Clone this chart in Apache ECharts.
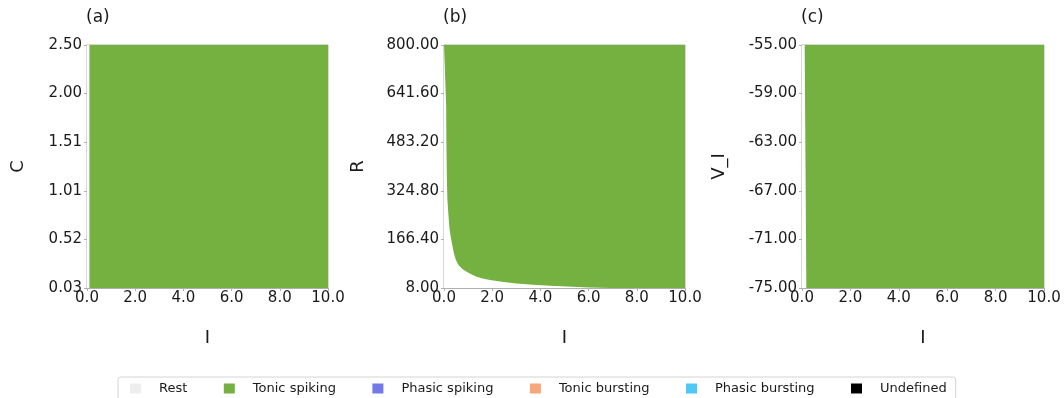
<!DOCTYPE html>
<html>
<head>
<meta charset="utf-8">
<script src="https://cdn.jsdelivr.net/npm/echarts@6/dist/echarts.min.js"></script>
<style>
  html, body { margin: 0; padding: 0; background: #ffffff; }
  #chart { width: 1064px; height: 398px; }
</style>
</head>
<body>
<div id="chart"></div>
<script>
// Firing-regime maps of the neuron model over (I, parameter) planes.

const panelTitles = ['(a)', '(b)', '(c)'];
const xName = 'I';
const yNames = ['C', 'R', 'V_I'];

const xTicks = [0, 2, 4, 6, 8, 10];
const xLabels = ['0.0', '2.0', '4.0', '6.0', '8.0', '10.0'];

const yTicksA = [0.025, 0.52, 1.015, 1.51, 2.005, 2.5];
const yLabelsA = ['0.03', '0.52', '1.01', '1.51', '2.00', '2.50'];
const yTicksB = [8, 166.4, 324.8, 483.2, 641.6, 800];
const yLabelsB = ['8.00', '166.40', '324.80', '483.20', '641.60', '800.00'];
const yTicksC = [-75, -71, -67, -63, -59, -55];
const yLabelsC = ['-75.00', '-71.00', '-67.00', '-63.00', '-59.00', '-55.00'];

const regimes = ['Rest', 'Tonic spiking', 'Phasic spiking', 'Tonic bursting', 'Phasic bursting', 'Undefined'];
const regimeColors = ['#eeeeee', '#74b141', '#7479e8', '#f8a67b', '#4ec8f5', '#000000'];

// Upper edge of the Rest region in each plane, as (I, parameter) points;
// everything below / left of it is Rest, the remainder is Tonic spiking.
const restEdgeA = [[0, 2.5], [0.1, 2.5], [0.1, 0.025]];
const restEdgeB = [
  [0, 800], [0.07, 800], [0.09, 600], [0.10, 480], [0.12, 360], [0.14, 300],
  [0.18, 250], [0.23, 200], [0.28, 175], [0.34, 150], [0.41, 121], [0.49, 100],
  [0.60, 83], [0.76, 70], [0.94, 61], [1.15, 52], [1.36, 45], [1.6, 39],
  [1.91, 34], [2.4, 28], [3.0, 23], [3.7, 19], [4.4, 15.6], [5.1, 12.5],
  [6.0, 10], [6.9, 8]
];
const restEdgeC = [[0, -55], [0.11, -55], [0.18, -75]];

// Top edge of the Tonic spiking region in each plane.
const spikeEdgeA = [[0, 2.5], [10, 2.5]];
const spikeEdgeB = [[0, 800], [10, 800]];
const spikeEdgeC = [[0, -55], [10, -55]];

const FONT = 'DejaVu Sans';
const AXIS_GREY = '#b0b0b0';
const TEXT = '#1a1a1a';

const panels = [
  { left: 87, width: 241, yTicks: yTicksA, yLabels: yLabelsA, rest: restEdgeA, spike: spikeEdgeA, nameGap: 60 },
  { left: 444, width: 241, yTicks: yTicksB, yLabels: yLabelsB, rest: restEdgeB, spike: spikeEdgeB, nameGap: 77 },
  { left: 802, width: 242, yTicks: yTicksC, yLabels: yLabelsC, rest: restEdgeC, spike: spikeEdgeC, nameGap: 74 }
];

function labelFor(ticks, labels) {
  return function (v) {
    let best = 0;
    for (let i = 1; i < ticks.length; i++) {
      if (Math.abs(ticks[i] - v) < Math.abs(ticks[best] - v)) best = i;
    }
    return labels[best];
  };
}

const grids = [], xAxes = [], yAxes = [], series = [], titles = [];

panels.forEach((p, i) => {
  grids.push({
    left: p.left, top: 45, width: p.width, height: 243,
    show: true, borderColor: AXIS_GREY, borderWidth: 1, backgroundColor: 'transparent'
  });
  titles.push({
    text: panelTitles[i], left: p.left - 1, top: 9, padding: 0,
    textStyle: { fontFamily: FONT, fontSize: 17, fontWeight: 'normal', color: TEXT }
  });
  xAxes.push({
    type: 'value', gridIndex: i, min: xTicks[0], max: xTicks[xTicks.length - 1], interval: 2,
    name: xName, nameLocation: 'middle', nameGap: 41,
    nameTextStyle: { fontFamily: FONT, fontSize: 18, color: TEXT },
    axisLine: { show: true, onZero: false, lineStyle: { color: AXIS_GREY, width: 1 } },
    axisTick: { show: true, length: 3, lineStyle: { color: AXIS_GREY } },
    axisLabel: { fontFamily: FONT, fontSize: 15, color: TEXT, margin: 3, formatter: labelFor(xTicks, xLabels) },
    splitLine: { show: false }
  });
  yAxes.push({
    type: 'value', gridIndex: i, min: p.yTicks[0], max: p.yTicks[p.yTicks.length - 1],
    name: yNames[i], nameLocation: 'middle', nameGap: p.nameGap,
    nameTextStyle: { fontFamily: FONT, fontSize: 18, color: TEXT },
    axisLine: { show: true, onZero: false, lineStyle: { color: AXIS_GREY, width: 1 } },
    axisTick: { show: true, length: 3, customValues: p.yTicks, lineStyle: { color: AXIS_GREY } },
    axisLabel: {
      fontFamily: FONT, fontSize: 15, color: TEXT, margin: 5,
      customValues: p.yTicks, formatter: labelFor(p.yTicks, p.yLabels)
    },
    splitLine: { show: false }
  });
  series.push({
    name: regimes[1], type: 'line', xAxisIndex: i, yAxisIndex: i,
    data: p.spike, symbol: 'none', silent: true, color: regimeColors[1],
    lineStyle: { width: 0 },
    areaStyle: { color: regimeColors[1], opacity: 1, origin: 'start' }
  });
  series.push({
    name: regimes[0], type: 'line', xAxisIndex: i, yAxisIndex: i,
    data: p.rest, symbol: 'none', silent: true, color: regimeColors[0],
    lineStyle: { width: 0 },
    areaStyle: { color: '#ffffff', opacity: 1, origin: 'start' }
  });
});

// Regimes that do not occur in these planes still get a legend entry.
for (let k = 2; k < regimes.length; k++) {
  series.push({
    name: regimes[k], type: 'line', xAxisIndex: 0, yAxisIndex: 0,
    data: [], symbol: 'none', color: regimeColors[k]
  });
}

const chart = echarts.init(document.getElementById('chart'), null, { renderer: 'canvas' });
chart.setOption({
  animation: false,
  backgroundColor: '#ffffff',
  title: titles,
  grid: grids,
  xAxis: xAxes,
  yAxis: yAxes,
  legend: {
    left: 118, top: 377,
    padding: [5, 9, 8, 12],
    icon: 'rect', itemWidth: 11, itemHeight: 10, itemGap: 36.5,
    borderColor: '#d4d4d4', borderWidth: 1, borderRadius: 3,
    backgroundColor: '#ffffff',
    selectedMode: false,
    textStyle: { fontFamily: FONT, fontSize: 13, color: TEXT, padding: [0, 0, 0, 13] },
    data: regimes.map((r, k) => ({ name: r, itemStyle: { color: regimeColors[k] } }))
  },
  series: series
});
</script>
</body>
</html>
